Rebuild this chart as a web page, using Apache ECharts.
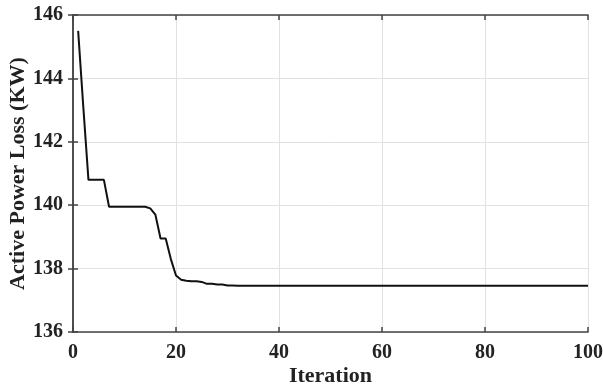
<!DOCTYPE html>
<html>
<head>
<meta charset="utf-8">
<script src="https://cdn.jsdelivr.net/npm/echarts@6/dist/echarts.min.js"></script>
<style>
  html, body { margin: 0; padding: 0; background: #fff; }
  #chart { width: 603px; height: 389px; }
</style>
</head>
<body>
<div id="chart"></div>
<script>
// values
const iterations = [
  1, 2, 3, 4, 5, 6, 7, 8, 9, 10,
  11, 12, 13, 14, 15, 16, 17, 18, 19, 20,
  21, 22, 23, 24, 25, 26, 27, 28, 29, 30,
  31, 32, 33, 34, 35, 36, 37, 38, 39, 40,
  41, 42, 43, 44, 45, 46, 47, 48, 49, 50,
  51, 52, 53, 54, 55, 56, 57, 58, 59, 60,
  61, 62, 63, 64, 65, 66, 67, 68, 69, 70,
  71, 72, 73, 74, 75, 76, 77, 78, 79, 80,
  81, 82, 83, 84, 85, 86, 87, 88, 89, 90,
  91, 92, 93, 94, 95, 96, 97, 98, 99, 100
]
const powerLoss = [
  145.5, 143.1, 140.8, 140.8, 140.8, 140.8, 139.95, 139.95, 139.95, 139.95,
  139.95, 139.95, 139.95, 139.95, 139.9, 139.7, 138.95, 138.95, 138.3, 137.78,
  137.65, 137.62, 137.6, 137.6, 137.58, 137.52, 137.52, 137.5, 137.5, 137.47,
  137.47, 137.46, 137.46, 137.46, 137.46, 137.46, 137.46, 137.46, 137.46, 137.46,
  137.46, 137.46, 137.46, 137.46, 137.46, 137.46, 137.46, 137.46, 137.46, 137.46,
  137.46, 137.46, 137.46, 137.46, 137.46, 137.46, 137.46, 137.46, 137.46, 137.46,
  137.46, 137.46, 137.46, 137.46, 137.46, 137.46, 137.46, 137.46, 137.46, 137.46,
  137.46, 137.46, 137.46, 137.46, 137.46, 137.46, 137.46, 137.46, 137.46, 137.46,
  137.46, 137.46, 137.46, 137.46, 137.46, 137.46, 137.46, 137.46, 137.46, 137.46,
  137.46, 137.46, 137.46, 137.46, 137.46, 137.46, 137.46, 137.46, 137.46, 137.46
]

const font = 'Liberation Serif'
const tickText = { color: '#222', fontFamily: font, fontWeight: 'bold', fontSize: 20 }
const nameText = { color: '#222', fontFamily: font, fontWeight: 'bold', fontSize: 22 }
const axisLine = { show: true, lineStyle: { color: '#444', width: 1.5 } }
const tick = { show: true, inside: true, length: 5, lineStyle: { color: '#444', width: 1.5 } }

const chart = echarts.init(document.getElementById('chart'))

const option = {
  animation: false,
  grid: {
    left: 73,
    right: 15,
    top: 15,
    bottom: 57,
    containLabel: false,
    outerBoundsMode: 'none'
  },
  xAxis: [
    {
      type: 'value',
      min: 0,
      max: 100,
      interval: 20,
      name: 'Iteration',
      nameLocation: 'middle',
      nameGap: 33,
      nameMoveOverlap: false,
      nameTextStyle: nameText,
      axisLine: axisLine,
      axisTick: tick,
      axisLabel: { ...tickText, margin: 11 },
      splitLine: { show: true, lineStyle: { color: '#e2e2e2', width: 1 } }
    },
    {
      type: 'value',
      position: 'top',
      min: 0,
      max: 100,
      interval: 20,
      axisLine: axisLine,
      axisTick: tick,
      axisLabel: { show: false },
      splitLine: { show: false }
    }
  ],
  yAxis: [
    {
      type: 'value',
      min: 136,
      max: 146,
      interval: 2,
      name: 'Active Power Loss (KW)',
      nameLocation: 'middle',
      nameGap: 44,
      nameMoveOverlap: false,
      nameTextStyle: nameText,
      axisLine: axisLine,
      axisTick: tick,
      axisLabel: { ...tickText, margin: 10 },
      splitLine: { show: true, lineStyle: { color: '#e2e2e2', width: 1 } }
    },
    {
      type: 'value',
      position: 'right',
      min: 136,
      max: 146,
      interval: 2,
      axisLine: axisLine,
      axisTick: tick,
      axisLabel: { show: false },
      splitLine: { show: false }
    }
  ],
  series: [
    {
      type: 'line',
      data: iterations.map((it, i) => [it, powerLoss[i]]),
      showSymbol: false,
      lineStyle: { color: '#111', width: 2 },
      itemStyle: { color: '#111' }
    }
  ]
}

chart.setOption(option)
</script>
</body>
</html>
